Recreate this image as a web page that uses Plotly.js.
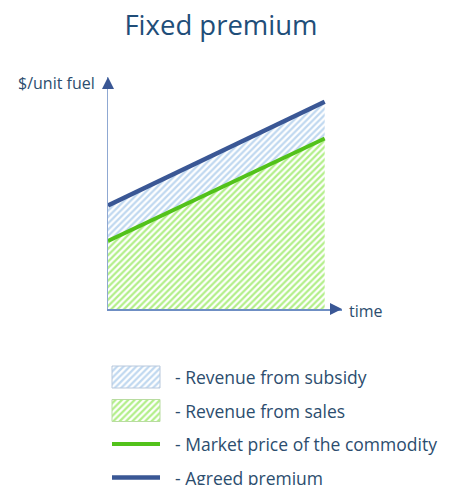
<!DOCTYPE html>
<html>
<head>
<meta charset="utf-8">
<script src="https://cdn.plot.ly/plotly-3.0.1.min.js"></script>
<style>html,body{margin:0;padding:0;background:#fff;}#chart{width:451px;height:485px;}</style>
</head>
<body>
<div id="chart"></div>
<script>
// ---- data ----
const timePoints = [0, 10];
const agreedPremium = [4.8, 9.6];
const marketPrice = [3.15, 7.9];
const titleText = 'Fixed premium';
const yAxisLabel = '$/unit fuel';
const xAxisLabel = 'time';
const legendLabels = [
  '- Revenue from subsidy',
  '- Revenue from sales',
  '- Market price of the commodity',
  '- Agreed premium'
];

// ---- styles ----
const W = 451, H = 485;
const FONT = '"Open Sans", "DejaVu Sans", sans-serif';
const navy = '#3a5795';
const green = '#52c21a';
const textColor = '#2c4d6e';
const blueFill = {shape: '/', fgcolor: '#c0d8f0', bgcolor: '#ffffff', size: 4.5, solidity: 0.5};
const greenFill = {shape: '/', fgcolor: '#b2ef88', bgcolor: '#ffffff', size: 4.5, solidity: 0.5};

const plotLeft = 108, plotRight = 342, plotBottom = 309, plotTop = 77;
const xMax = 10.8, yMax = 10.75;

const traces = [
  {x: timePoints, y: marketPrice, type: 'scatter', mode: 'lines', fill: 'tozeroy',
   fillpattern: greenFill, fillcolor: '#ffffff', line: {width: 0, color: green}, hoverinfo: 'skip', xaxis: 'x', yaxis: 'y'},
  {x: timePoints, y: agreedPremium, type: 'scatter', mode: 'lines', fill: 'tonexty',
   fillpattern: blueFill, fillcolor: '#ffffff', line: {width: 0, color: navy}, hoverinfo: 'skip', xaxis: 'x', yaxis: 'y'},
  {x: timePoints, y: marketPrice, type: 'scatter', mode: 'lines',
   line: {width: 4, color: green}, hoverinfo: 'skip', xaxis: 'x', yaxis: 'y'},
  {x: timePoints, y: agreedPremium, type: 'scatter', mode: 'lines',
   line: {width: 4.5, color: navy}, hoverinfo: 'skip', xaxis: 'x', yaxis: 'y'}
];

// ---- custom legend (pixel-space axes covering the whole page) ----
const legTop = 377, legGap = 33.5, swL = 112, swR = 160, swH = 22, textX = 173;
const legendKinds = [
  {kind: 'fill', pattern: blueFill, edge: '#b8c8dc'},
  {kind: 'fill', pattern: greenFill, edge: '#b8dca0'},
  {kind: 'line', color: green, width: 4},
  {kind: 'line', color: navy, width: 4.5}
];
const annotations = [];
legendLabels.forEach((lab, i) => {
  const cy = legTop + i * legGap;
  const k = legendKinds[i];
  if (k.kind === 'fill') {
    traces.push({x: [swL, swR, swR, swL, swL], y: [cy - swH/2, cy - swH/2, cy + swH/2, cy + swH/2, cy - swH/2],
      type: 'scatter', mode: 'lines', fill: 'toself', fillpattern: k.pattern, fillcolor: '#ffffff',
      line: {width: 1, color: k.edge}, hoverinfo: 'skip', xaxis: 'x2', yaxis: 'y2'});
  } else {
    traces.push({x: [swL, swR], y: [cy, cy], type: 'scatter', mode: 'lines',
      line: {width: k.width, color: k.color}, hoverinfo: 'skip', xaxis: 'x2', yaxis: 'y2'});
  }
  annotations.push({xref: 'x2', yref: 'y2', x: textX, y: cy, text: lab, showarrow: false,
    xanchor: 'left', yanchor: 'middle', font: {family: FONT, size: 17.5, color: textColor}});
});

// axis arrowheads
annotations.push({xref: 'x', yref: 'y', x: 0, y: yMax, ax: 0, ay: 13, text: '', showarrow: true,
  arrowhead: 2, arrowsize: 1.2, arrowwidth: 2, arrowcolor: navy});
annotations.push({xref: 'x', yref: 'y', x: xMax, y: 0, ax: -13, ay: 0, text: '', showarrow: true,
  arrowhead: 2, arrowsize: 1.2, arrowwidth: 2, arrowcolor: navy});
// axis labels
annotations.push({xref: 'paper', yref: 'paper', x: 97 / W, y: 1 - 83 / H, text: yAxisLabel, showarrow: false,
  xanchor: 'right', yanchor: 'middle', font: {family: FONT, size: 16, color: textColor}});
annotations.push({xref: 'paper', yref: 'paper', x: 347 / W, y: 1 - 311 / H, text: xAxisLabel, showarrow: false,
  xanchor: 'left', yanchor: 'middle', font: {family: FONT, size: 16, color: textColor}});

const axisBase = {showgrid: false, zeroline: false, showticklabels: false, ticks: '', fixedrange: true};
const layout = {
  width: W, height: H,
  margin: {l: 0, r: 0, t: 0, b: 0},
  paper_bgcolor: '#ffffff', plot_bgcolor: 'rgba(0,0,0,0)',
  showlegend: false,
  title: {text: titleText, x: 221 / W, xanchor: 'center', xref: 'paper', y: 1 - 25 / H, yref: 'container', yanchor: 'middle',
    font: {family: FONT, size: 27.5, color: '#1f4e79'}},
  xaxis: Object.assign({}, axisBase, {domain: [plotLeft / W, plotRight / W], range: [0, xMax],
    showline: true, linecolor: '#6f8fc4', linewidth: 1.5, anchor: 'y'}),
  yaxis: Object.assign({}, axisBase, {domain: [1 - plotBottom / H, 1 - plotTop / H], range: [0, yMax],
    showline: true, linecolor: '#8fa8d2', linewidth: 1.5, anchor: 'x'}),
  xaxis2: Object.assign({}, axisBase, {domain: [0, 1], range: [0, W], visible: false, anchor: 'y2'}),
  yaxis2: Object.assign({}, axisBase, {domain: [0, 1], range: [H, 0], visible: false, anchor: 'x2'}),
  annotations: annotations
};

Plotly.newPlot('chart', traces, layout, {staticPlot: true, displayModeBar: false});
</script>
</body>
</html>
